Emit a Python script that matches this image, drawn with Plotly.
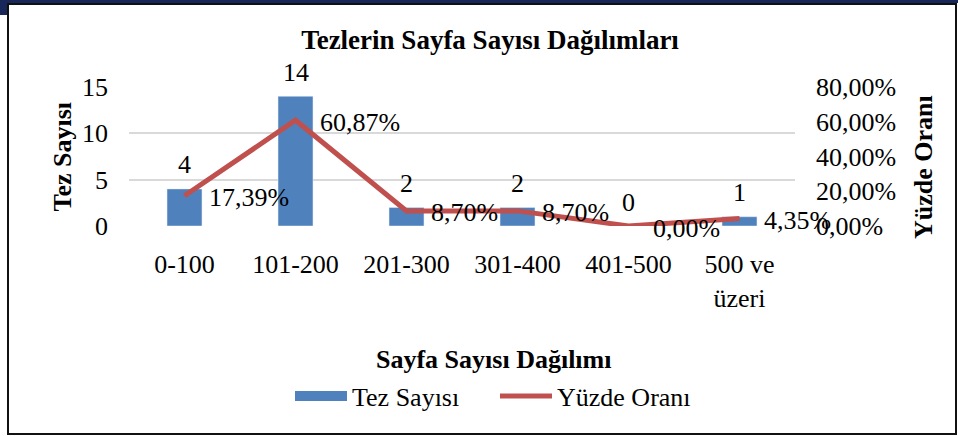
import plotly.graph_objects as go

# Chart data
categories = ["0-100", "101-200", "201-300", "301-400", "401-500", "500 ve üzeri"]
tick_labels = ["0-100", "101-200", "201-300", "301-400", "401-500", "500 ve<br>üzeri"]
tez_sayisi = [4, 14, 2, 2, 0, 1]
yuzde_orani = [0.1739, 0.6087, 0.0870, 0.0870, 0.0, 0.0435]

FONT = "Liberation Serif, Times New Roman, serif"
BAR_COLOR = "#4f81bd"
LINE_COLOR = "#c0504d"
FS = 26
TXT = dict(family=FONT, size=FS, color="black")

# Plot area in pixels (for placing frame / titles)
W, H = 958, 436
L, R, T, B = 129, 163, 87, 210
PW, PH = W - L - R, H - T - B


def px_x(x):
    return (x - L) / PW


def px_y(y):
    return (H - B - y) / PH


fig = go.Figure()

fig.add_trace(go.Bar(
    x=categories, y=tez_sayisi, name="Tez Sayısı",
    marker=dict(color=BAR_COLOR), showlegend=False,
))
# legend stand-in for the wide bar swatch
fig.add_trace(go.Scatter(
    x=[categories[0]], y=[None], mode="lines", name="Tez Sayısı",
    line=dict(color=BAR_COLOR, width=14),
))
fig.add_trace(go.Scatter(
    x=categories, y=yuzde_orani, name="Yüzde Oranı", yaxis="y2",
    mode="lines", line=dict(color=LINE_COLOR, width=5),
))

# Data labels
for c, v in zip(categories, tez_sayisi):
    fig.add_annotation(x=c, y=v, yref="y", text=str(v), showarrow=False,
                       xanchor="center", yanchor="middle", yshift=24, font=TXT)
for c, p in zip(categories, yuzde_orani):
    fig.add_annotation(x=c, y=p, yref="y2", text=f"{p * 100:.2f}%".replace(".", ","),
                       showarrow=False, xanchor="left", yanchor="middle",
                       xshift=22, yshift=-2, font=TXT)

# Axis titles
BOLD = dict(TXT, weight="bold")
fig.add_annotation(x=px_x(62), y=0.5, xref="paper", yref="paper", text="Tez Sayısı",
                   textangle=-90, showarrow=False, xanchor="center", yanchor="middle",
                   font=BOLD)
fig.add_annotation(x=px_x(923), y=px_y(167), xref="paper", yref="paper", text="Yüzde Oranı",
                   textangle=-90, showarrow=False, xanchor="center", yanchor="middle",
                   font=BOLD)
fig.add_annotation(x=px_x(493), y=px_y(359), xref="paper", yref="paper",
                   text="Sayfa Sayısı Dağılımı", showarrow=False,
                   xanchor="center", yanchor="middle", font=BOLD)

# Frame around the chart
fig.add_shape(type="rect", xref="paper", yref="paper",
              x0=px_x(0), x1=px_x(958), y0=px_y(3), y1=px_y(0),
              line=dict(width=0), fillcolor="#17275a")
fig.add_shape(type="rect", xref="paper", yref="paper",
              x0=px_x(0), x1=px_x(7), y0=px_y(15), y1=px_y(0),
              line=dict(width=0), fillcolor="#17275a")
fig.add_shape(type="rect", xref="paper", yref="paper",
              x0=px_x(8), x1=px_x(956), y0=px_y(434), y1=px_y(4),
              line=dict(color="#111111", width=2))

fig.update_layout(
    width=W, height=H,
    margin=dict(l=L, r=R, t=T, b=B),
    paper_bgcolor="white", plot_bgcolor="white",
    font=TXT,
    separators=",.",
    title=dict(text="Tezlerin Sayfa Sayısı Dağılımları", x=490 / W, xanchor="center",
               y=1 - 40 / H, yanchor="middle", font=dict(TXT, size=27, weight="bold")),
    bargap=0.685,
    showlegend=True,
    legend=dict(orientation="h", x=px_x(495), xanchor="center", y=px_y(396),
                yanchor="middle", itemwidth=52, entrywidth=138, entrywidthmode="pixels",
                font=TXT, bgcolor="rgba(0,0,0,0)"),
    xaxis=dict(tickmode="array", tickvals=categories, ticktext=tick_labels,
               range=[-0.5, 5.5], showgrid=False, showline=False, ticks="",
               ticklabelstandoff=20, tickfont=TXT),
    yaxis=dict(range=[0, 15], dtick=5, showgrid=True, gridcolor="#d9d9d9",
               gridwidth=1.5, zeroline=False, showline=False, ticklabelstandoff=20,
               tickfont=TXT),
    yaxis2=dict(range=[0, 0.8], dtick=0.2, tickformat=".2%", overlaying="y", side="right",
                showgrid=False, zeroline=False, showline=False, ticklabelstandoff=20,
                tickfont=TXT),
)

# drop the page's default body margin so the figure sits at the window corner
fig.write_html("out.html", config={"displayModeBar": False},
               post_script="document.body.style.margin='0';")
